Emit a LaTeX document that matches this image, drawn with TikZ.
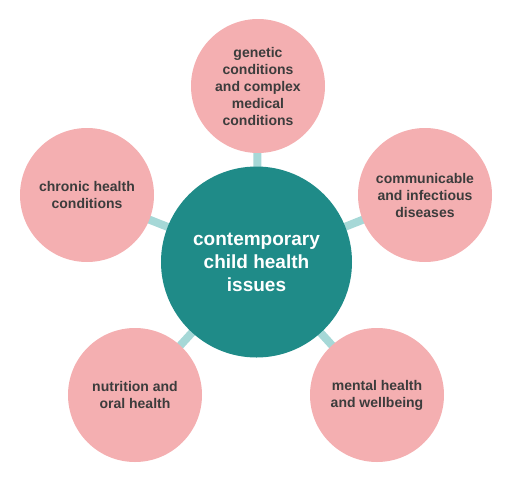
\documentclass[tikz,border=0pt]{standalone}
\usepackage{fontspec}
\setmainfont{Liberation Sans}
\usetikzlibrary{backgrounds}
\definecolor{teal1}{HTML}{1F8B88}
\definecolor{pink1}{HTML}{F4AFB1}
\definecolor{link1}{HTML}{A6D8D7}
\definecolor{txt1}{HTML}{3C3C3C}
\begin{document}
\begin{tikzpicture}[x=1pt,y=-1pt,
  hub/.style={circle,fill=teal1,minimum size=191pt,inner sep=0pt,align=center,text=white,font=\fontsize{19}{23}\selectfont\bfseries},
  leaf/.style={circle,fill=pink1,minimum size=134pt,inner sep=0pt,align=center,text=txt1,font=\fontsize{14}{17}\selectfont\bfseries},
  link/.style={draw=link1,line width=8pt}]
\useasboundingbox (0,0) rectangle (512,491);
\node[hub] (c) at (256.5,262) {contemporary\\child health\\issues};
\node[leaf] (t) at (258,86) {genetic\\conditions\\and complex\\medical\\conditions};
\node[leaf] (r) at (425,195) {communicable\\and infectious\\diseases};
\node[leaf] (l) at (87,195) {chronic health\\conditions};
\node[leaf] (bl) at (135,395) {nutrition and\\oral health};
\node[leaf] (br) at (377,395) {mental health\\and wellbeing};
\begin{scope}[on background layer]
\foreach \n in {t,r,l,bl,br}{\path[link] (c.center) -- (\n.center);}
\end{scope}
\end{tikzpicture}
\end{document}
